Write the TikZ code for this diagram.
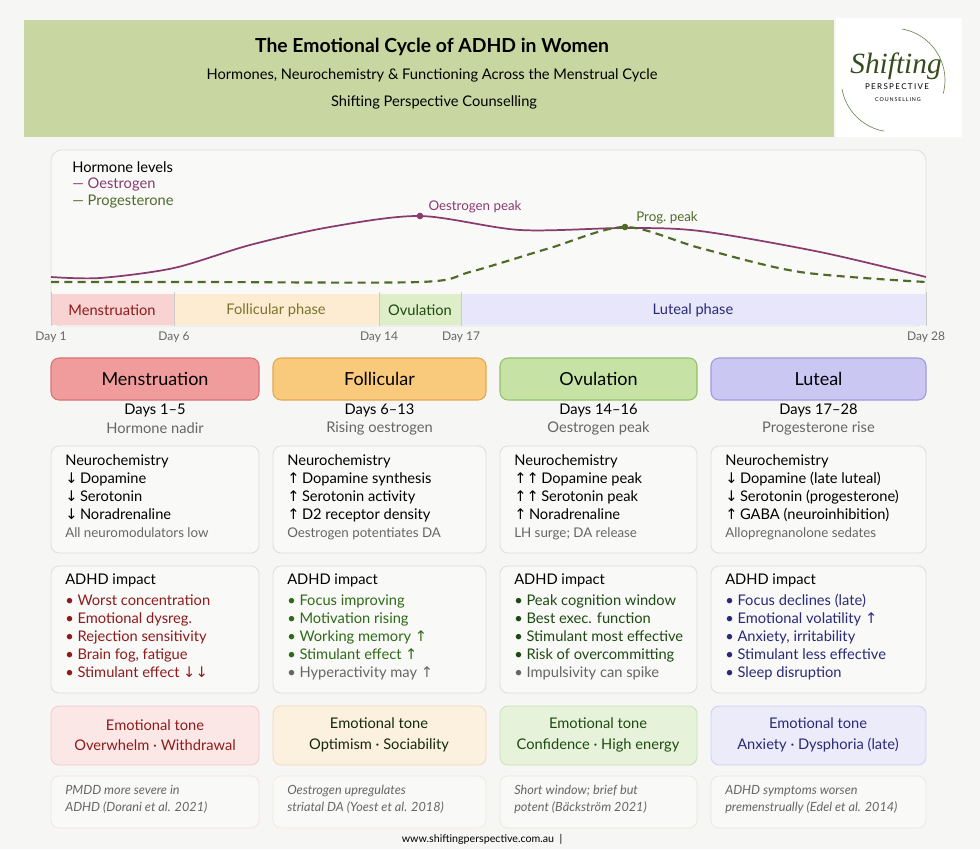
\documentclass[tikz,border=0pt]{standalone}
\usepackage{fontspec}
\setmainfont{Lato}
\newfontfamily\arr{DejaVu Sans}
\newfontfamily\scr{Liberation Serif}
\newcommand{\dn}{{\arr ↓}}
\newcommand{\upa}{{\arr ↑}}
\definecolor{bg}{HTML}{F6F6F4}
\definecolor{hdr}{HTML}{C8D7A2}
\definecolor{oes}{HTML}{8A3B6E}
\definecolor{pro}{HTML}{4E6B2A}
\definecolor{cM}{HTML}{F19C9C}\definecolor{bM}{HTML}{D97272}
\definecolor{cF}{HTML}{F9C97C}\definecolor{bF}{HTML}{E3A94F}
\definecolor{cO}{HTML}{C6E3A5}\definecolor{bO}{HTML}{94C06A}
\definecolor{cL}{HTML}{CAC7F3}\definecolor{bL}{HTML}{9E99DE}
\definecolor{tM}{HTML}{8E1B1B}\definecolor{tF}{HTML}{2F6A18}
\definecolor{tO}{HTML}{1E4A12}\definecolor{tL}{HTML}{2A2A78}
\definecolor{eM}{HTML}{FCE7E7}\definecolor{eF}{HTML}{FCF0DE}
\definecolor{eO}{HTML}{E7F2DB}\definecolor{eL}{HTML}{ECEBFA}
\definecolor{bdM}{HTML}{F3C9C9}\definecolor{bdF}{HTML}{F0D9B5}
\definecolor{bdO}{HTML}{C9DFB5}\definecolor{bdL}{HTML}{CFCCF0}
\definecolor{gtx}{HTML}{666666}
\definecolor{card}{HTML}{F9F9F8}
\definecolor{cbd}{HTML}{DDDDDA}
\begin{document}
\begin{tikzpicture}[x=0.75pt,y=-0.75pt,
  body/.style={font=\fontsize{11}{13.5}\selectfont},
  cardbox/.style={draw=cbd,fill=card,rounded corners=6pt,line width=0.6pt},
  ctxt/.style={body,anchor=north west,align=left,inner sep=0pt},
  ctr/.style={body,align=center,inner sep=0pt},
  daylab/.style={font=\fontsize{9}{11}\selectfont,text=gtx},
  band/.style={font=\fontsize{11}{12}\selectfont}]
\useasboundingbox (0,0) rectangle (980,849);
\fill[bg] (0,0) rectangle (980,849);
% header
\fill[hdr] (24,20) rectangle (834,137);
\node[font=\bfseries\fontsize{14.5}{17}\selectfont] (title) at (432,47) {The Emotional Cycle of ADHD in Women};
\node[font=\fontsize{11}{13}\selectfont] (sub1) at (432,75) {Hormones, Neurochemistry \& Functioning Across the Menstrual Cycle};
\node[font=\fontsize{11}{13}\selectfont] (sub2) at (434,102) {Shifting Perspective Counselling};
% logo
\fill[white] (836,18) rectangle (962,137);
\draw[pro!80,line width=0.5pt] (902,29) arc (-80:15:52);
\draw[pro!80,line width=0.5pt] (842,89) arc (170:100:52);
\node[font=\scr\itshape\fontsize{22}{22}\selectfont,text=pro!70!black] (shift) at (896,66) {Shifting};
\node[font=\fontsize{6}{7}\selectfont] (persp) at (897,87) {P\,E\,R\,S\,P\,E\,C\,T\,I\,V\,E};
\node[font=\fontsize{4}{5}\selectfont] (couns) at (898,100) {C\,O\,U\,N\,S\,E\,L\,L\,I\,N\,G};
% chart panel
\draw[cbd,fill=card,rounded corners=8pt,line width=0.6pt] (51,150) rectangle (926,326);
\fill[cM!45] (51,294) rectangle (174,325);
\fill[cF!35] (174,294) rectangle (379,325);
\fill[cO!60] (379,294) rectangle (461,325);
\fill[cL!45] (461,294) rectangle (926,325);
\foreach \x in {51,174,379,461,926} \draw[cbd!80!gray,line width=0.5pt] (\x,292) -- (\x,326);
\node[band,text=tM] (bm) at (112,310) {Menstruation};
\node[band,text=tF!50!brown] (bf) at (276,310) {Follicular phase};
\node[band,text=tO] (bo) at (420,310) {Ovulation};
\node[band,text=tL] (bl) at (693,310) {Luteal phase};
\node[daylab] (d1) at (51,337) {Day 1};
\node[daylab] (d6) at (174,337) {Day 6};
\node[daylab] (d14) at (379,337) {Day 14};
\node[daylab] (d17) at (461,337) {Day 17};
\node[daylab] (d28) at (926,337) {Day 28};
\node[body,anchor=north west,align=left,inner sep=0pt] (legend) at (72,161) {Hormone levels\\[-1pt]\textcolor{oes}{— Oestrogen}\\[-1pt]\textcolor{pro}{— Progesterone}};
% curves
\draw[oes,line width=1.3pt] plot[smooth,tension=0.5] coordinates {(51,277) (100,278) (174,268) (250,245) (330,227) (420,216) (520,230) (625,228) (700,231) (820,252) (926,277)};
\draw[pro,line width=1.6pt,dash pattern=on 6pt off 4pt] plot[smooth,tension=0.5] coordinates {(51,282) (200,282) (420,282) (470,272) (550,248) (625,227) (700,248) (800,272) (926,282)};
\fill[oes] (420,216) circle (3.3);
\fill[pro] (625,227) circle (3.3);
\node[text=oes,font=\fontsize{10}{11}\selectfont] (ep) at (475,207) {Oestrogen peak};
\node[text=pro,font=\fontsize{10}{11}\selectfont] (pp) at (667,218) {Prog.\ peak};
% columns
\foreach \xa/\xb/\nn/\cc/\dd/\ep/\ebd/\ttl/\dys/\subt in {
  51/259/M/cM/bM/eM/bdM/Menstruation/Days 1–5/Hormone nadir,
  273/486/F/cF/bF/eF/bdF/Follicular/Days 6–13/Rising oestrogen,
  500/697/O/cO/bO/eO/bdO/Ovulation/Days 14–16/Oestrogen peak,
  711/926/L/cL/bL/eL/bdL/Luteal/Days 17–28/Progesterone rise}{
  \pgfmathsetmacro\mx{(\xa+\xb)/2}
  \draw[fill=\cc,draw=\dd,rounded corners=6pt,line width=0.8pt] (\xa,358) rectangle (\xb,400);
  \node[font=\fontsize{13.5}{15}\selectfont] (h\nn) at (\mx,379) {\ttl};
  \node[ctr] (days\nn) at (\mx,410) {\dys};
  \node[ctr,text=gtx] (sub\nn) at (\mx,428) {\subt};
  \draw[cardbox] (\xa,446) rectangle (\xb,553);
  \draw[cardbox] (\xa,566) rectangle (\xb,693);
  \draw[fill=\ep,draw=\ebd,rounded corners=6pt,line width=0.6pt] (\xa,706) rectangle (\xb,765);
  \draw[fill=card,draw=\ep!70!cbd,rounded corners=6pt,line width=0.6pt] (\xa,776) rectangle (\xb,828);
}
% neurochemistry
\node[ctxt] (nM) at (65,454) {Neurochemistry\\\dn\,Dopamine\\\dn\,Serotonin\\\dn\,Noradrenaline\\\textcolor{gtx}{\fontsize{10}{13.5}\selectfont All neuromodulators low}};
\node[ctxt] (nF) at (287,454) {Neurochemistry\\\upa\,Dopamine synthesis\\\upa\,Serotonin activity\\\upa\,D2 receptor density\\\textcolor{gtx}{\fontsize{10}{13.5}\selectfont Oestrogen potentiates DA}};
\node[ctxt] (nO) at (514,454) {Neurochemistry\\\upa\upa\,Dopamine peak\\\upa\upa\,Serotonin peak\\\upa\,Noradrenaline\\\textcolor{gtx}{\fontsize{10}{13.5}\selectfont LH surge; DA release}};
\node[ctxt] (nL) at (725,454) {Neurochemistry\\\dn\,Dopamine (late luteal)\\\dn\,Serotonin (progesterone)\\\upa\,GABA (neuroinhibition)\\\textcolor{gtx}{\fontsize{10}{13.5}\selectfont Allopregnanolone sedates}};
% ADHD impact
\node[ctxt] (aM) at (65,574) {ADHD impact\\[2pt]\color{tM}• Worst concentration\\\color{tM}• Emotional dysreg.\\\color{tM}• Rejection sensitivity\\\color{tM}• Brain fog, fatigue\\\color{tM}• Stimulant effect \dn\dn};
\node[ctxt] (aF) at (287,574) {ADHD impact\\[2pt]\color{tF}• Focus improving\\\color{tF}• Motivation rising\\\color{tF}• Working memory \upa\\\color{tF}• Stimulant effect \upa\\\color{gtx}• Hyperactivity may \upa};
\node[ctxt] (aO) at (514,574) {ADHD impact\\[2pt]\color{tO}• Peak cognition window\\\color{tO}• Best exec. function\\\color{tO}• Stimulant most effective\\\color{tO}• Risk of overcommitting\\\color{gtx}• Impulsivity can spike};
\node[ctxt] (aL) at (725,574) {ADHD impact\\[2pt]\color{tL}• Focus declines (late)\\\color{tL}• Emotional volatility \upa\\\color{tL}• Anxiety, irritability\\\color{tL}• Stimulant less effective\\\color{tL}• Sleep disruption};
% emotional tone
\node[ctr,text=tM] (eMn) at (155,735) {Emotional tone\\[2pt]Overwhelm · Withdrawal};
\node[ctr,text=tF!40!black] (eFn) at (379,735) {Emotional tone\\[2pt]Optimism · Sociability};
\node[ctr,text=tO] (eOn) at (598,735) {Emotional tone\\[2pt]Confidence · High energy};
\node[ctr,text=tL] (eLn) at (818,735) {Emotional tone\\[2pt]Anxiety · Dysphoria (late)};
% refs
\tikzset{rf/.style={anchor=north west,align=left,inner sep=0pt,text=gtx,font=\itshape\fontsize{9.5}{13}\selectfont}}
\node[rf] (rM) at (65,785) {PMDD more severe in\\ADHD (Dorani et al. 2021)};
\node[rf] (rF) at (287,785) {Oestrogen upregulates\\striatal DA (Yoest et al. 2018)};
\node[rf] (rO) at (514,785) {Short window; brief but\\potent (Bäckström 2021)};
\node[rf] (rL) at (725,785) {ADHD symptoms worsen\\premenstrually (Edel et al. 2014)};
\node[font=\fontsize{8}{10}\selectfont] (foot) at (482,839) {www.shiftingperspective.com.au \ |};
\end{tikzpicture}
\end{document}
